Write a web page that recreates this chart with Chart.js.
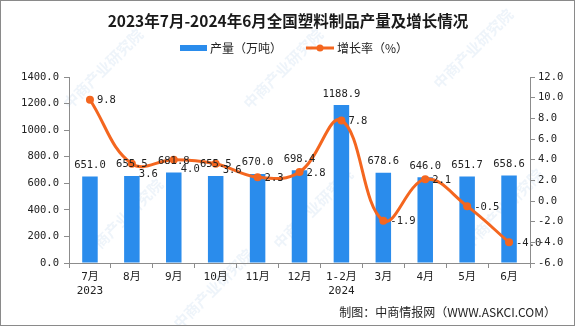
<!DOCTYPE html>
<html>
<head>
<meta charset="utf-8">
<script src="https://cdn.jsdelivr.net/npm/chart.js@4.4.1/dist/chart.umd.min.js"></script>
<style>
  html, body { margin: 0; padding: 0; background: #fff; }
  #wrap { position: relative; width: 575px; height: 326px; }
</style>
</head>
<body>
<div id="wrap"><canvas id="chart" width="575" height="326"></canvas></div>
<script>
// 月份（第二行为年份）
var months = [['7月', '2023'], '8月', '9月', '10月', '11月', '12月', ['1-2月', '2024'], '3月', '4月', '5月', '6月'];
// 产量（万吨）
var output = [651.0, 655.5, 681.8, 655.5, 670.0, 698.4, 1188.9, 678.6, 646.0, 651.7, 658.6];
// 增长率（%）
var growth = [9.8, 3.6, 4.0, 3.6, 2.3, 2.8, 7.8, -1.9, 2.1, -0.5, -4.0];

var leftTicks = { min: 0, max: 1400, step: 200 };
var rightTicks = { min: -6, max: 12, step: 2 };

var FONT = '"Noto Sans CJK SC", "Noto Sans", sans-serif';
var NUM_FONT = '"DejaVu Sans Mono", "Noto Sans CJK SC", monospace';
var BLUE = '#2a8cec';
var ORANGE = '#f4661f';
var AXIS = '#8c8c8c';

// background, frame, watermark, title, legend, footer
var decorations = {
    id: 'decorations',
    beforeDraw: function (chart) {
        var ctx = chart.ctx;
        ctx.save();
        ctx.fillStyle = '#fff';
        ctx.fillRect(0, 0, chart.width, chart.height);

        // faint watermark
        ctx.fillStyle = 'rgba(120,170,220,0.13)';
        ctx.font = 'bold 15px ' + FONT;
        var marks = [[70, 110], [250, 110], [440, 90], [90, 260], [280, 250], [470, 250], [180, 330]];
        marks.forEach(function (m) {
            ctx.save();
            ctx.translate(m[0], m[1]);
            ctx.rotate(-Math.PI / 4);
            ctx.fillText('中商产业研究院', 0, 0);
            ctx.restore();
        });
        ctx.restore();
    },
    afterDraw: function (chart) {
        var ctx = chart.ctx;
        ctx.save();

        ctx.fillStyle = '#1a1a1a';
        ctx.textAlign = 'center';
        ctx.textBaseline = 'middle';
        ctx.font = 'bold 15.5px ' + FONT;
        ctx.fillText('2023年7月-2024年6月全国塑料制品产量及增长情况', 288, 21);

        // legend
        ctx.font = '12px ' + FONT;
        ctx.textAlign = 'left';
        ctx.fillStyle = BLUE;
        ctx.fillRect(180, 45, 27, 6);
        ctx.fillStyle = '#222';
        ctx.fillText('产量（万吨）', 210, 48);
        ctx.strokeStyle = ORANGE;
        ctx.lineWidth = 3;
        ctx.beginPath();
        ctx.moveTo(306, 48);
        ctx.lineTo(334, 48);
        ctx.stroke();
        ctx.fillStyle = ORANGE;
        ctx.beginPath();
        ctx.arc(320, 48, 3.5, 0, Math.PI * 2);
        ctx.fill();
        ctx.fillStyle = '#222';
        ctx.fillText('增长率（%）', 337, 48);

        // footer
        ctx.textAlign = 'right';
        ctx.fillText('制图：中商情报网（WWW.ASKCI.COM）', 556, 312);

        // frame
        ctx.strokeStyle = '#8a8a8a';
        ctx.lineWidth = 1;
        ctx.strokeRect(0.5, 0.5, chart.width - 1, chart.height - 1);
        ctx.restore();
    }
};

// value labels: above bars, right of line points
// (a few growth labels are pushed down so they clear the bar labels)
var growthLabelDrop = { 1: 10, 2: 10, 3: 6 };

var valueLabels = {
    id: 'valueLabels',
    afterDatasetsDraw: function (chart) {
        var ctx = chart.ctx;
        ctx.save();
        ctx.font = '10.5px ' + NUM_FONT;
        ctx.fillStyle = '#222';

        var bars = chart.getDatasetMeta(1).data;
        ctx.textAlign = 'center';
        ctx.textBaseline = 'bottom';
        bars.forEach(function (bar, i) {
            ctx.fillText(output[i].toFixed(1), bar.x, bar.y - 6);
        });

        var pts = chart.getDatasetMeta(0).data;
        ctx.textAlign = 'left';
        ctx.textBaseline = 'middle';
        pts.forEach(function (p, i) {
            var dy = growthLabelDrop[i] || 1;
            ctx.fillText(growth[i].toFixed(1), p.x + 7, p.y + dy);
        });
        ctx.restore();
    }
};

new Chart(document.getElementById('chart'), {
    data: {
        labels: months,
        datasets: [{
            type: 'line',
            label: '增长率（%）',
            data: growth,
            yAxisID: 'y1',
            borderColor: ORANGE,
            backgroundColor: ORANGE,
            borderWidth: 3,
            pointRadius: 4,
            pointHoverRadius: 4,
            pointBackgroundColor: ORANGE,
            pointBorderWidth: 0,
            tension: 0.4,
            order: 0
        }, {
            type: 'bar',
            label: '产量（万吨）',
            data: output,
            yAxisID: 'y',
            backgroundColor: BLUE,
            barPercentage: 0.37,
            categoryPercentage: 1,
            order: 1
        }]
    },
    options: {
        responsive: false,
        animation: false,
        layout: { padding: { top: 77, bottom: 0, left: 0, right: 0 } },
        plugins: {
            legend: { display: false },
            title: { display: false },
            tooltip: { enabled: false }
        },
        scales: {
            x: {
                grid: { display: true, drawOnChartArea: false, offset: true, tickLength: 5, color: AXIS },
                border: { color: AXIS },
                ticks: { color: '#222', font: { family: NUM_FONT, size: 11 }, maxRotation: 0, autoSkip: false, padding: 3 },
                afterFit: function (s) { s.height = 63; }
            },
            y: {
                position: 'left',
                min: leftTicks.min,
                max: leftTicks.max,
                grid: { display: true, drawOnChartArea: false, tickLength: 5, color: AXIS },
                border: { color: AXIS },
                ticks: {
                    stepSize: leftTicks.step,
                    color: '#222',
                    font: { family: NUM_FONT, size: 10.5 },
                    padding: 5,
                    callback: function (v) { return v.toFixed(1); }
                },
                afterFit: function (s) { s.width = 69; }
            },
            y1: {
                position: 'right',
                min: rightTicks.min,
                max: rightTicks.max,
                grid: { display: true, drawOnChartArea: false, tickLength: 5, color: AXIS },
                border: { color: AXIS },
                ticks: {
                    stepSize: rightTicks.step,
                    color: '#222',
                    font: { family: NUM_FONT, size: 10.5 },
                    padding: 3,
                    callback: function (v) { return v.toFixed(1); }
                },
                afterFit: function (s) { s.width = 45; }
            }
        }
    },
    plugins: [decorations, valueLabels]
});
</script>
</body>
</html>
